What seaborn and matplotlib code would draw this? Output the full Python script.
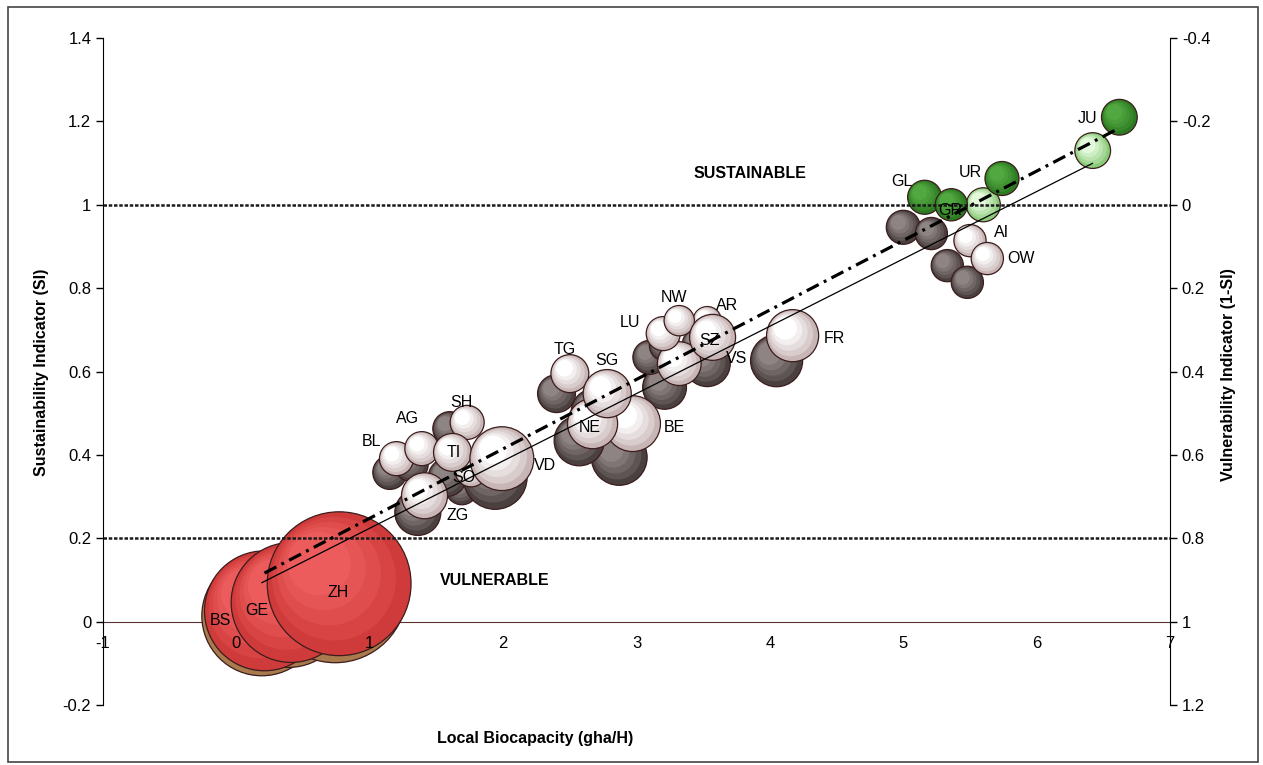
import numpy as np
import pandas as pd
import matplotlib
matplotlib.use("Agg")
import matplotlib.pyplot as plt
from matplotlib.colors import to_rgb, to_hex
from matplotlib.patches import Rectangle
import seaborn as sns


# cantons, in drawing order
cantons = ['BS', 'GE', 'ZH', 'BL', 'AG', 'ZG', 'SO', 'SH', 'TI', 'VD', 'BE', 'TG', 'NE',
           'SG', 'VS', 'LU', 'AR', 'NW', 'SZ', 'FR', 'GL', 'GR', 'AI', 'OW', 'UR', 'JU']

# front series (red / white / dark green) - local biocapacity and SI
bc_a = [0.21, 0.41, 0.77, 1.20, 1.39, 1.41, 1.76, 1.73, 1.62, 1.99, 2.97, 2.50, 2.67,
        2.78, 3.32, 3.20, 3.53, 3.32, 3.57, 4.17, 5.16, 5.36, 5.50, 5.63, 5.74, 6.62]
si_a = [0.026, 0.046, 0.091, 0.391, 0.415, 0.302, 0.362, 0.478, 0.406, 0.391, 0.475, 0.595, 0.475,
        0.547, 0.619, 0.691, 0.722, 0.722, 0.682, 0.686, 1.018, 1.00, 0.914, 0.871, 1.063, 1.21]

# back series (tan / grey / light green)
bc_b = [0.19, 0.39, 0.74, 1.15, 1.31, 1.36, 1.69, 1.60, 1.58, 1.94, 2.87, 2.40, 2.57,
        2.69, 3.21, 3.10, 3.45, 3.21, 3.53, 4.05, 5.00, 5.21, 5.33, 5.48, 5.60, 6.42]
si_b = [0.014, 0.034, 0.074, 0.358, 0.377, 0.262, 0.319, 0.463, 0.346, 0.346, 0.394, 0.547, 0.434,
        0.502, 0.562, 0.634, 0.667, 0.662, 0.619, 0.626, 0.946, 0.931, 0.854, 0.814, 1.00, 1.13]

# bubble size (area units)
bubble = [360, 360, 518, 29, 29, 53, 26, 29, 36, 102, 78, 36, 63,
          58, 48, 29, 20, 23, 53, 68, 29, 26, 26, 26, 29, 32]

x_ticks = [-1, 0, 1, 2, 3, 4, 5, 6, 7]
si_ticks = [-0.2, 0, 0.2, 0.4, 0.6, 0.8, 1, 1.2, 1.4]
vi_ticks = [-0.4, -0.2, 0, 0.2, 0.4, 0.6, 0.8, 1, 1.2]

# label offsets (points) from the front bubble
label_offset = {
    'BS': (-32, -7), 'GE': (-25, -6), 'ZH': (-1, -6), 'BL': (-18, 12), 'AG': (-10, 22),
    'SH': (-4, 14), 'TI': (1, 0), 'SO': (-5, -5), 'VD': (31, -5), 'ZG': (24, -14),
    'TG': (-4, 17), 'SG': (0, 24), 'NE': (-2, -3), 'BE': (30, -3), 'LU': (-24, 8),
    'NW': (-4, 17), 'AR': (14, 11), 'SZ': (-2, -2), 'VS': (41, 4), 'FR': (30, -2),
    'GL': (-16, 11), 'GR': (-1, -4), 'UR': (-23, 4), 'AI': (23, 6), 'OW': (24, 0),
    'JU': (-23, -1),
}

# rim colour, centre colour
tones = {
    'red': ('#cf3a3a', '#ec5c5c'),
    'tan': ('#a87a4c', '#cfa676'),
    'white': ('#c8b6b6', '#ffffff'),
    'gray': ('#4a4040', '#8e8484'),
    'dkgreen': ('#2c7a22', '#52a840'),
    'ltgreen': ('#8acb7a', '#e4f8dc'),
}
EDGE = '#3c1c1c'
AREA_K = 20.7
fracs = [1.0, 0.86, 0.72, 0.58, 0.44]
blend = [0.0, 0.3, 0.55, 0.78, 1.0]


def tone_for(si, series):
    if si < 0.2:
        return 'red' if series == 'a' else 'tan'
    if si >= 1:
        return 'dkgreen' if series == 'a' else 'ltgreen'
    return 'white' if series == 'a' else 'gray'


def mix(c1, c2, t):
    a, b = np.array(to_rgb(c1)), np.array(to_rgb(c2))
    return to_hex(a + (b - a) * t)


def layer_frame(bc, si, series, ppx, ppy):
    # each bubble = a few stacked circles to fake the 3d shading
    rows = []
    for x, y, v in zip(bc, si, bubble):
        tone = tone_for(y, series)
        rad = np.sqrt(AREA_K * v) / 2 * 100 / 72
        for k, f in enumerate(fracs):
            d = (1 - f) * 0.5 * rad
            rows.append(dict(x=x - d / ppx, y=y + d / ppy, s=v * f * f,
                             shade=f"{tone}{k}", base=(k == 0)))
    return pd.DataFrame(rows)


def fmt(v, _):
    v = round(v, 1)
    return "0" if v == 0 else f"{v:g}"


def main():
    sns.set_style("white")
    plt.rcParams['font.family'] = ['Liberation Sans', 'DejaVu Sans']
    plt.rcParams['text.color'] = 'black'
    plt.rcParams['xtick.color'] = 'black'
    plt.rcParams['ytick.color'] = 'black'

    fig = plt.figure(figsize=(12.63, 7.65), dpi=100)
    ax = fig.add_axes([0.0816, 0.0784, 0.8448, 0.8719])
    ax.set_xlim(-1, 7)
    ax.set_ylim(-0.2, 1.4)

    p0 = ax.transData.transform((0, 0))
    p1 = ax.transData.transform((1, 1))
    ppx, ppy = p1[0] - p0[0], p1[1] - p0[1]

    palette = {f"{t}{k}": mix(c[0], c[1], blend[k]) for t, c in tones.items() for k in range(len(fracs))}

    for bc, si, series in [(bc_b, si_b, 'b'), (bc_a, si_a, 'a')]:
        lay = layer_frame(bc, si, series, ppx, ppy)
        sns.scatterplot(data=lay, x='x', y='y', size='s', sizes=(0, AREA_K * 600), size_norm=(0, 600),
                        hue='shade', palette=palette, legend=False, ax=ax, zorder=1)
        coll = ax.collections[-1]
        coll.set_edgecolors([EDGE if b else (0, 0, 0, 0) for b in lay['base']])
        coll.set_linewidths([0.9 if b else 0 for b in lay['base']])

    # trend lines
    sns.regplot(x=np.array(bc_b), y=np.array(si_b), scatter=False, ci=None, truncate=True,
                color='black', line_kws=dict(lw=0.9, zorder=4), ax=ax)
    sns.regplot(x=np.array(bc_a), y=np.array(si_a), scatter=False, ci=None, truncate=True,
                color='black', line_kws=dict(lw=2.3, dashes=(4.2, 1.8, 0.9, 1.8), zorder=4), ax=ax)

    # thresholds
    for lvl in [1, 0.2]:
        ax.axhline(lvl, color='#1a1a1a', lw=1.8, ls=(0, (1.4, 0.7)), zorder=3)

    ax.text(3.85, 1.075, 'SUSTAINABLE', ha='center', va='center', fontsize=11.5,
            fontweight='bold', color='black')
    ax.text(1.94, 0.098, 'VULNERABLE', ha='center', va='center', fontsize=11.5,
            fontweight='bold', color='black')

    for i, c in enumerate(cantons):
        ax.annotate(c, (bc_a[i], si_a[i]), xytext=label_offset[c], textcoords='offset points',
                    ha='center', va='center', fontsize=11.5, color='black', zorder=6)

    ax.set_xlim(-1, 7)
    ax.set_ylim(-0.2, 1.4)
    ax.set_xticks(x_ticks)
    ax.set_yticks(si_ticks)
    ax.xaxis.set_major_formatter(fmt)
    ax.yaxis.set_major_formatter(fmt)
    ax.set_xlabel('')
    ax.set_ylabel('')
    ax.tick_params(axis='both', labelsize=12, length=5, width=1, direction='out',
                   color='black', labelcolor='black')
    ax.tick_params(axis='x', pad=5)
    ax.xaxis.set_zorder(5)
    ax.spines['top'].set_visible(False)
    ax.spines['right'].set_visible(False)
    ax.spines['bottom'].set_position(('data', 0))
    ax.spines['bottom'].set_color('#5a3030')
    ax.spines['bottom'].set_zorder(0.5)
    ax.spines['left'].set_color('black')

    ax2 = ax.twinx()
    ax2.set_ylim(1.2, -0.4)
    ax2.set_yticks(vi_ticks)
    ax2.yaxis.set_major_formatter(fmt)
    ax2.tick_params(axis='y', labelsize=12, length=5, width=1, direction='out',
                    color='black', labelcolor='black')
    for s in ['top', 'left', 'bottom']:
        ax2.spines[s].set_visible(False)
    ax2.spines['right'].set_color('black')
    ax2.grid(False)

    lab = dict(fontsize=11.5, fontweight='bold', ha='center', va='center', color='black')
    fig.text(42 / 1263, 1 - 372 / 765, 'Sustainability Indicator (SI)', rotation=90, **lab)
    fig.text(1228 / 1263, 1 - 375 / 765, 'Vulnerability Indicator (1-SI)', rotation=90, **lab)
    fig.text(535 / 1263, 1 - 738 / 765, 'Local Biocapacity (gha/H)', **lab)

    fig.add_artist(Rectangle((0.006, 0.004), 0.99, 0.987, fill=False, lw=1.2, ec='#444444',
                             transform=fig.transFigure))

    fig.savefig('out.png', dpi=100)


if __name__ == '__main__':
    main()
